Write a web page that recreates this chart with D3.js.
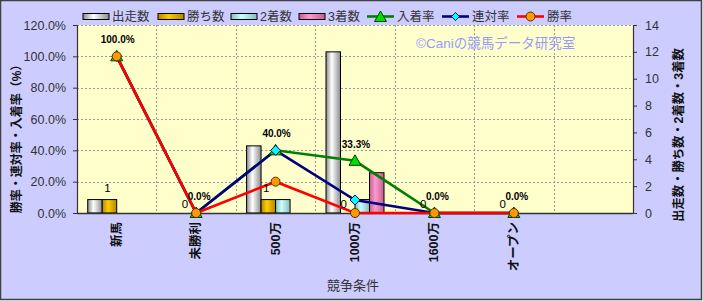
<!DOCTYPE html>
<html><head><meta charset="utf-8">
<script src="https://cdn.jsdelivr.net/npm/d3@7"></script>
<style>body{margin:0;background:#fff}svg{display:block}</style>
</head><body>
<svg id="c" width="703" height="301"></svg>
<script>
const categories = ["新馬","未勝利","500万","1000万","1600万","オープン"," "];
const runs    = [1,0,5,12,0,0];
const wins    = [1,0,1,0,0,0];
const seconds = [0,0,1,1,0,0];
const thirds  = [0,0,0,3,0,0];
const placeRate   = [1.0,0,0.4,0.333,0,0];
const rentaiRate  = [1.0,0,0.4,0.083,0,0];
const winRate     = [1.0,0,0.2,0,0,0];
const leftTicks  = [0,0.2,0.4,0.6,0.8,1.0,1.2];
const rightTicks = [0,2,4,6,8,10,12,14];

const W=703,H=301, L=77,R=633,T=25,B=213;
const svg=d3.select("#c");
const FONT="'Liberation Sans','Noto Sans CJK JP',sans-serif";

svg.append("rect").attr("x",0.5).attr("y",0.5).attr("width",W-2).attr("height",H-2)
  .attr("fill","#ccccff").attr("stroke","#404040").attr("stroke-width",1.5);

const defs=svg.append("defs");
function grad(id,dark,light){
  const g=defs.append("linearGradient").attr("id",id).attr("x1","0").attr("x2","1").attr("y1","0").attr("y2","0");
  g.append("stop").attr("offset","0%").attr("stop-color",dark);
  g.append("stop").attr("offset","40%").attr("stop-color",light);
  g.append("stop").attr("offset","100%").attr("stop-color",dark);
}
grad("gGrey","#8c8c8c","#ffffff");
grad("gGold","#b08800","#ffcc00");
grad("gCyan","#88bbbb","#ccffff");
grad("gPink","#c0608f","#ff99cc");

const x=d3.scaleBand().domain(categories).range([L,R]).padding(0);
const yL=d3.scaleLinear().domain([0,1.2]).range([B,T]);
const yR=d3.scaleLinear().domain([0,14]).range([B,T]);

svg.append("rect").attr("x",L).attr("y",T).attr("width",R-L).attr("height",B-T).attr("fill","#ffffcc");

// gridlines
const grid=svg.append("g").attr("stroke","#9a9a9a").attr("stroke-dasharray","2,2").attr("stroke-width",1);
leftTicks.slice(1).forEach(t=>grid.append("line").attr("x1",L).attr("x2",R).attr("y1",Math.round(yL(t))+0.5).attr("y2",Math.round(yL(t))+0.5));
categories.slice(1).forEach(c=>grid.append("line").attr("x1",Math.round(x(c))+0.5).attr("x2",Math.round(x(c))+0.5).attr("y1",T).attr("y2",B));

// watermark
svg.append("text").attr("x",416).attr("y",48).attr("fill","#9999ff").attr("font-size",13.5)
  .attr("font-family",FONT).text("©Caniの競馬データ研究室");

// bars
const barSeries=[{name:"出走数",vals:runs,fill:"url(#gGrey)"},{name:"勝ち数",vals:wins,fill:"url(#gGold)"},
  {name:"2着数",vals:seconds,fill:"url(#gCyan)"},{name:"3着数",vals:thirds,fill:"url(#gPink)"}];
const sub=d3.scaleBand().domain(barSeries.map(s=>s.name)).range([-29,29]);
barSeries.forEach(s=>{
  svg.append("g").selectAll("rect").data(s.vals.map((v,i)=>({v,c:categories[i]})).filter(d=>d.v>0))
    .join("rect")
    .attr("x",d=>x(d.c)+x.bandwidth()/2+sub(s.name))
    .attr("y",d=>yR(d.v)).attr("width",sub.bandwidth()).attr("height",d=>B-yR(d.v))
    .attr("fill",s.fill).attr("stroke","#000").attr("stroke-width",1);
});

// axes
const axL=svg.append("g").attr("transform",`translate(${L},0)`)
  .call(d3.axisLeft(yL).tickValues(leftTicks).tickFormat(d3.format(".1%")).tickSize(4).tickPadding(7));
const axR=svg.append("g").attr("transform",`translate(${R},0)`)
  .call(d3.axisRight(yR).tickValues(rightTicks).tickSize(4).tickPadding(8));
[axL,axR].forEach(a=>{
  a.select(".domain").attr("stroke","#333").attr("stroke-width",1.2);
  a.selectAll(".tick line").attr("stroke","#333");
  a.selectAll("text").attr("font-size",12.5).attr("font-family",FONT).attr("fill","#333");
});
svg.append("line").attr("x1",L).attr("x2",R).attr("y1",B+0.5).attr("y2",B+0.5).attr("stroke","#333").attr("stroke-width",1.5);

// category labels
svg.append("g").selectAll("text").data(categories).join("text")
  .attr("transform",d=>`translate(${x(d)+x.bandwidth()/2},222) rotate(-90)`)
  .attr("text-anchor","end").attr("dominant-baseline","central")
  .attr("font-size",12.5).attr("font-weight","bold").attr("font-family",FONT).attr("fill","#111").text(d=>d);

// lines
const lineSeries=[
 {name:"入着率",vals:placeRate,color:"#008000",marker:"tri"},
 {name:"連対率",vals:rentaiRate,color:"#000080",marker:"dia"},
 {name:"勝率",vals:winRate,color:"#ff0000",marker:"cir"}];
function marker(g,type,cx,cy){
  if(type==="tri") g.append("path").attr("d",`M${cx},${cy-6}L${cx+6},${cy+4.5}L${cx-6},${cy+4.5}Z`).attr("fill","#00e000").attr("stroke","#004000").attr("stroke-width",1);
  else if(type==="dia") g.append("path").attr("d",`M${cx},${cy-5}L${cx+5},${cy}L${cx},${cy+5}L${cx-5},${cy}Z`).attr("fill","#00ffff").attr("stroke","#000060").attr("stroke-width",1);
  else g.append("circle").attr("cx",cx).attr("cy",cy).attr("r",4.5).attr("fill","#ff9900").attr("stroke","#553300").attr("stroke-width",1);
}
const cx=c=>x(c)+x.bandwidth()/2;
const line=d3.line().x(d=>cx(d.c)).y(d=>yL(d.v));
lineSeries.forEach(s=>{
  const pts=s.vals.map((v,i)=>({v,c:categories[i]}));
  svg.append("path").datum(pts).attr("d",line).attr("fill","none").attr("stroke",s.color).attr("stroke-width",2.6);
});
lineSeries.forEach(s=>{
  const g=svg.append("g");
  s.vals.forEach((v,i)=>marker(g,s.marker,cx(categories[i]),yL(v)));
});

// data labels
svg.append("g").selectAll("text").data(wins).join("text")
  .attr("x",(d,i)=>cx(categories[i])+sub("勝ち数")+sub.bandwidth()/2-(d===0?4:2)).attr("y",d=>yR(d)-(d===0?5:8))
  .attr("text-anchor","middle").attr("font-size",11.5).attr("font-family",FONT).attr("fill","#000").text(d=>d);
svg.append("g").selectAll("text").data(placeRate).join("text")
  .attr("x",(d,i)=>cx(categories[i])+(d===0?3:1)).attr("y",d=>yL(d)-13)
  .attr("text-anchor","middle").attr("font-size",10).attr("font-weight","bold").attr("font-family",FONT)
  .attr("fill","#000").text(d=>d3.format(".1%")(d));

// axis titles
svg.append("text").attr("transform","translate(17,136) rotate(-90)").attr("text-anchor","middle").attr("dominant-baseline","central")
  .attr("font-size",12).attr("font-weight","bold").attr("font-family",FONT).attr("fill","#111").text("勝率・連対率・入着率（%）");
svg.append("text").attr("transform","translate(679,135) rotate(-90)").attr("text-anchor","middle").attr("dominant-baseline","central")
  .attr("font-size",12.3).attr("font-weight","bold").attr("font-family",FONT).attr("fill","#111").text("出走数・勝ち数・2着数・3着数");
svg.append("text").attr("x",353).attr("y",290).attr("text-anchor","middle")
  .attr("font-size",13).attr("font-family",FONT).attr("fill","#333").text("競争条件");

// legend
const leg=svg.append("g").attr("font-family",FONT).attr("font-size",12.5).attr("fill","#333");
const legBars=[{x:83,fill:"url(#gGrey)",t:"出走数"},{x:158,fill:"url(#gGold)",t:"勝ち数"},{x:231,fill:"url(#gCyan)",t:"2着数"},{x:299,fill:"url(#gPink)",t:"3着数"}];
legBars.forEach(b=>{
  leg.append("rect").attr("x",b.x).attr("y",13.5).attr("width",26).attr("height",6).attr("fill",b.fill).attr("stroke","#000");
  leg.append("text").attr("x",b.x+29).attr("y",21).text(b.t);
});
const legLines=[{x:367,s:lineSeries[0]},{x:442,s:lineSeries[1]},{x:517,s:lineSeries[2]}];
legLines.forEach(l=>{
  leg.append("line").attr("x1",l.x).attr("x2",l.x+27).attr("y1",16.5).attr("y2",16.5).attr("stroke",l.s.color).attr("stroke-width",2.6);
  const g=leg.append("g");
  if(l.s.marker==="tri") marker(g,"tri",l.x+13.5,17);
  else if(l.s.marker==="dia") { g.append("path").attr("d",`M${l.x+13.5},${12.5}L${l.x+17.5},16.5L${l.x+13.5},20.5L${l.x+9.5},16.5Z`).attr("fill","#00ffff").attr("stroke","#000060"); }
  else marker(g,"cir",l.x+13.5,16.5);
  leg.append("text").attr("x",l.x+30).attr("y",21).text(l.s.name);
});
</script>
</body></html>
